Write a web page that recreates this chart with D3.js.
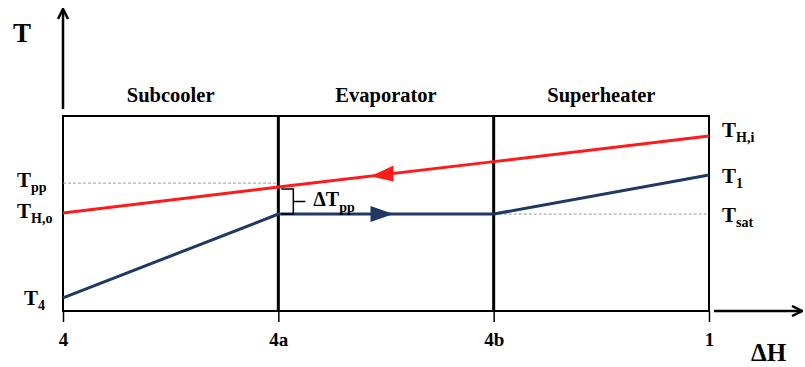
<!DOCTYPE html>
<html>
<head>
<meta charset="utf-8">
<script src="https://cdn.jsdelivr.net/npm/d3@7"></script>
<style>
  body { margin: 0; background: #fff; }
  text { font-family: "Liberation Serif", "Times New Roman", serif; font-weight: bold; fill: #000; }
</style>
</head>
<body>
<div id="chart"></div>
<script>
// state points along the heat exchanger
const states = ['4', '4a', '4b', '1'];
const sections = ['Subcooler', 'Evaporator', 'Superheater'];

// temperatures (arbitrary units)
const hotStream = [50.3, 63.6, 76.6, 89.7];
const coldStream = [6.7, 49.7, 49.7, 69.7];
const tPinch = 65.6;
const tSat = 49.7;

// labels at left and right side
const leftLabels = [
  { main: 'T', sub: 'pp', value: 66.7 },
  { main: 'T', sub: 'H,o', value: 50.8 },
  { main: 'T', sub: '4', value: 6.2 }
];
const rightLabels = [
  { main: 'T', sub: 'H,i', value: 92.3 },
  { main: 'T', sub: '1', value: 68.7 },
  { main: 'T', sub: 'sat', value: 48.7 }
];

const width = 805, height = 367;
const mLeft = 63, mRight = 709, mTop = 116, mBottom = 311;

const svg = d3.select('#chart').append('svg')
  .attr('width', width)
  .attr('height', height);

const x = d3.scalePoint().domain(states).range([mLeft, mRight]);
const y = d3.scaleLinear().domain([0, 100]).range([mBottom, mTop]);

// frame
svg.append('rect')
  .attr('x', mLeft).attr('y', mTop)
  .attr('width', mRight - mLeft).attr('height', mBottom - mTop)
  .attr('fill', 'none').attr('stroke', '#000').attr('stroke-width', 2);

// section dividers
svg.selectAll('.divider')
  .data(['4a', '4b'])
  .enter().append('line')
  .attr('x1', d => x(d)).attr('x2', d => x(d))
  .attr('y1', mTop).attr('y2', mBottom)
  .attr('stroke', '#000').attr('stroke-width', 3);

// bottom axis
const xAxis = svg.append('g')
  .attr('transform', `translate(0, ${mBottom})`)
  .call(d3.axisBottom(x).tickSize(11).tickPadding(11));
xAxis.select('.domain').remove();
xAxis.selectAll('line').attr('stroke', '#000').attr('stroke-width', 1.5);
xAxis.selectAll('text')
  .attr('fill', '#000')
  .style('font-family', '"Liberation Serif", serif')
  .style('font-weight', 'bold')
  .style('font-size', '19px');

// section titles
svg.selectAll('.section')
  .data(sections)
  .enter().append('text')
  .attr('x', (d, i) => (x(states[i]) + x(states[i + 1])) / 2)
  .attr('y', 102)
  .attr('text-anchor', 'middle')
  .style('font-size', '20.5px')
  .text(d => d);

// arrows for axes
svg.append('defs').append('marker')
  .attr('id', 'head')
  .attr('viewBox', '0 0 10 10')
  .attr('refX', 9).attr('refY', 5)
  .attr('markerWidth', 5).attr('markerHeight', 5)
  .attr('orient', 'auto')
  .append('path')
  .attr('d', 'M1,1 L9,5 L1,9')
  .attr('fill', 'none').attr('stroke', '#000').attr('stroke-width', 2);

svg.append('line')
  .attr('x1', mLeft).attr('x2', mLeft)
  .attr('y1', 109).attr('y2', 9)
  .attr('stroke', '#000').attr('stroke-width', 2.5)
  .attr('marker-end', 'url(#head)');
svg.append('line')
  .attr('x1', 714).attr('x2', 802)
  .attr('y1', mBottom).attr('y2', mBottom)
  .attr('stroke', '#000').attr('stroke-width', 2.5)
  .attr('marker-end', 'url(#head)');

svg.append('text').attr('x', 13).attr('y', 42).style('font-size', '27px').text('T');
svg.append('text').attr('x', 751).attr('y', 361).style('font-size', '25px').text('ΔH');

// dashed reference lines
svg.append('line')
  .attr('x1', x('4')).attr('x2', x('4a'))
  .attr('y1', y(tPinch)).attr('y2', y(tPinch))
  .attr('stroke', '#999').attr('stroke-width', 1).attr('stroke-dasharray', '3,2');
svg.append('line')
  .attr('x1', x('4b')).attr('x2', x('1'))
  .attr('y1', y(tSat)).attr('y2', y(tSat))
  .attr('stroke', '#999').attr('stroke-width', 1).attr('stroke-dasharray', '3,2');

const line = d3.line().x(d => x(d.s)).y(d => y(d.t));

svg.append('path')
  .datum(states.map((s, i) => ({ s, t: coldStream[i] })))
  .attr('d', line)
  .attr('fill', 'none').attr('stroke', '#1f3864').attr('stroke-width', 3);

svg.append('path')
  .datum(states.map((s, i) => ({ s, t: hotStream[i] })))
  .attr('d', line)
  .attr('fill', 'none').attr('stroke', '#ff1a1a').attr('stroke-width', 3);

// direction arrowheads in the evaporator section
const xa = d3.scaleLinear().domain([0, 1]).range([x('4a'), x('4b')]);
const hotY = f => y(hotStream[1] + (hotStream[2] - hotStream[1]) * f);
const coldY = () => y(coldStream[1]);
function head(fTip, fBase, yAt, color) {
  const h = 8;
  svg.append('path')
    .attr('d', `M${xa(fTip)},${yAt(fTip)} L${xa(fBase)},${yAt(fBase) - h} L${xa(fBase)},${yAt(fBase) + h} Z`)
    .attr('fill', color);
}
head(0.428, 0.535, hotY, '#ff1a1a');
head(0.535, 0.428, coldY, '#1f3864');

// pinch bracket
const bx = x('4a');
const y1 = y(hotStream[1]) + 2, y2 = y(coldStream[1]), ym = (y1 + y2) / 2;
svg.append('path')
  .attr('d', `M${bx + 3},${y1} L${bx + 15},${y1} L${bx + 15},${y2} L${bx + 3},${y2} M${bx + 15},${ym} L${bx + 27},${ym}`)
  .attr('fill', 'none').attr('stroke', '#000').attr('stroke-width', 1.5);
const dt = svg.append('text').attr('x', bx + 35).attr('y', ym + 4).style('font-size', '20px');
dt.append('tspan').text('ΔT');
dt.append('tspan').attr('dy', 6).style('font-size', '14px').text('pp');

// side labels
function sideLabel(d, xp) {
  const t = svg.append('text').attr('x', xp).attr('y', y(d.value) + 6).style('font-size', '21px');
  t.append('tspan').text(d.main);
  t.append('tspan').attr('dy', 5).style('font-size', '14px').text(d.sub);
}
leftLabels.forEach(d => sideLabel(d, d.sub === '4' ? 24 : 17));
rightLabels.forEach(d => sideLabel(d, 722));
</script>
</body>
</html>
